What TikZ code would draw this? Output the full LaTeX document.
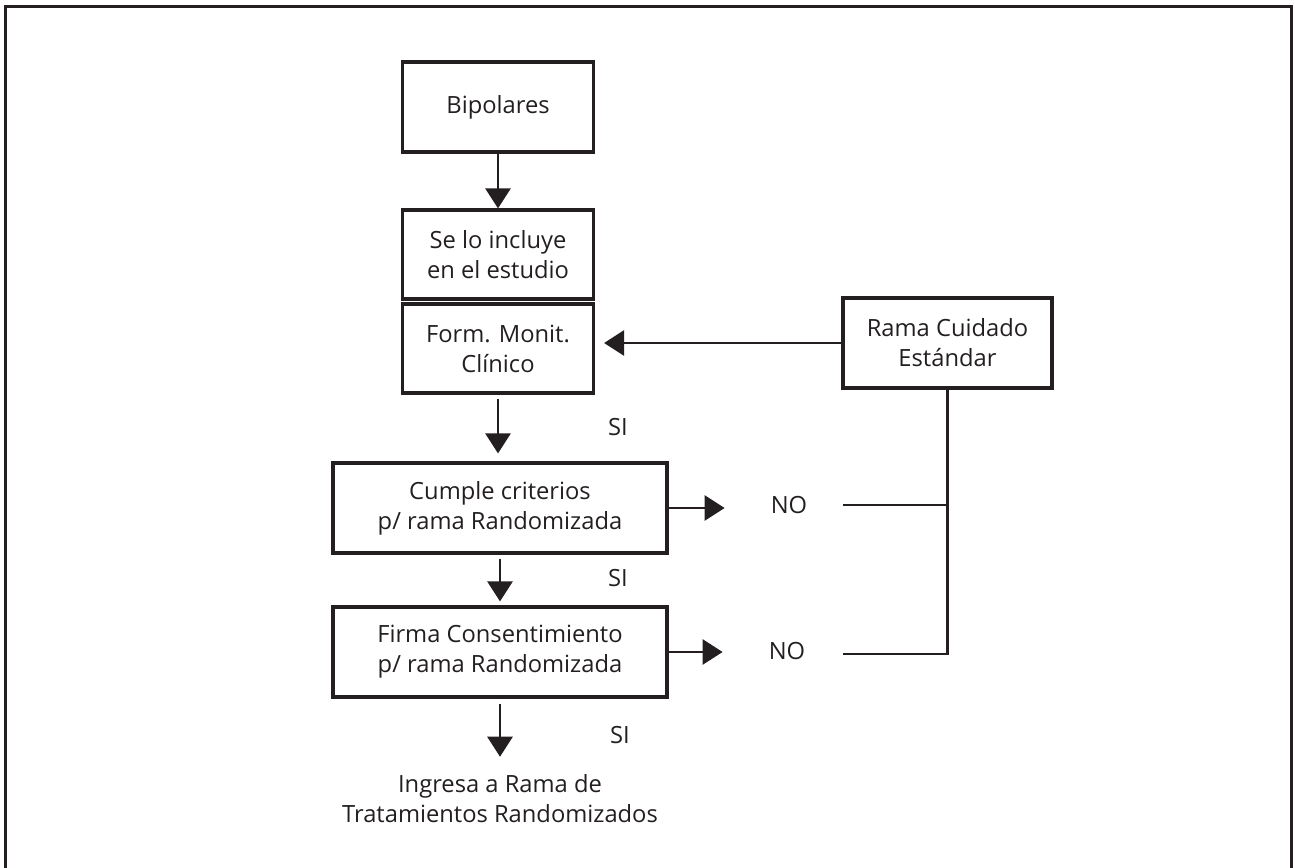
\documentclass[tikz,border=0pt]{standalone}
\usepackage{fontspec}
\setmainfont{Open Sans}
\usetikzlibrary{arrows.meta, positioning}
\definecolor{ink}{HTML}{231F20}

\begin{document}
\begin{tikzpicture}[
x=0.02cm, y=-0.02cm,
font=\fontsize{13.5}{17}\selectfont,
every node/.style={text=ink},
box/.style={rectangle, draw=ink, line width=1.8pt, minimum height=1.8cm, align=center},
arrow/.style={-{Triangle[length=0.4cm, width=0.5cm]}, draw=ink, line width=1.5pt},
link/.style={draw=ink, line width=1.5pt}
]

\useasboundingbox (0,0) rectangle (1295,868);
\draw[ink, line width=1.6pt] (5.5,880) -- (5.5,6.7) -- (1291.3,6.7) -- (1291.3,880);

\node[box, minimum width=3.82cm] (bipolares) at (498,107) {Bipolares};
\node[box, minimum width=3.82cm, minimum height=1.78cm] (incluye) at (498,254.5) {Se lo incluye\\en el estudio};
\node[box, minimum width=3.82cm, minimum height=1.78cm] (monit) at (498,348.5) {Form. Monit.\\Clínico};
\node[box, minimum width=4.18cm] (rama) at (947.5,343) {Rama Cuidado\\Estándar};
\node[box, minimum width=6.68cm] (criterios) at (500,508) {Cumple criterios\\p/ rama Randomizada};
\node[box, minimum width=6.68cm] (consent) at (500,652) {Firma Consentimiento\\p/ rama Randomizada};
\node[align=center] (ingreso) at (500,799) {Ingresa a Rama de\\Tratamientos Randomizados};

\node (si1) at (618,427) {SI};
\node (si2) at (618,578) {SI};
\node (si3) at (620,735) {SI};
\node (no1) at (789,505) {NO};
\node (no2) at (787,651) {NO};
\coordinate (no1end) at (843,505);
\coordinate (no2end) at (843,654);

\draw[arrow] (bipolares) -- (incluye);
\draw[arrow, shorten <=0.08cm, shorten >=0.16cm] (monit.south) -- (monit.south |- criterios.north);
\draw[arrow, shorten <=0.08cm, shorten >=0.08cm] (criterios) -- (consent);
\draw[arrow, shorten <=0.1cm, shorten >=0.24cm] (consent) -- (ingreso);
\draw[arrow, shorten >=0.18cm] (rama.west) -- (rama.west -| monit.east);
\draw[arrow, shorten >=0.8cm] (criterios) -- (criterios -| no1.west);
\draw[arrow, shorten >=0.8cm] (consent) -- (consent -| no2.west);
\draw[link] (rama.south) |- (no2end);
\draw[link] (no1end) -- (no1end -| rama.south);

\end{tikzpicture}
\end{document}
